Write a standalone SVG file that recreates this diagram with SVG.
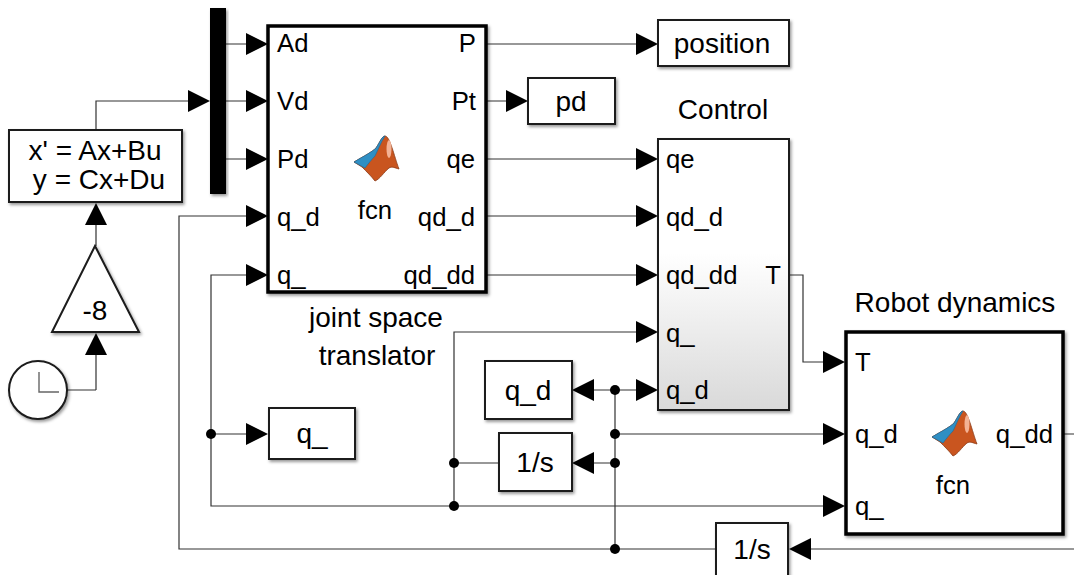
<svg xmlns="http://www.w3.org/2000/svg" width="1074" height="575" viewBox="0 0 1074 575">
<style>
text{font-family:"Liberation Sans",Arial,sans-serif;font-size:28px;fill:#000}
.p{font-size:25.7px}
.m{text-anchor:middle}
.e{text-anchor:end}
.b{fill:#fff;stroke:#1a1a1a;stroke-width:2;filter:url(#sh)}
.h{fill:#fff;stroke:#000;stroke-width:3.5;filter:url(#sh)}
.l{fill:none;stroke:#333;stroke-width:1.2}
.d{fill:#000}
.a{fill:#000}
</style>
<defs>
<filter id="sh" x="-10%" y="-10%" width="125%" height="125%"><feDropShadow dx="1.5" dy="2" stdDeviation="1.5" flood-color="#000" flood-opacity="0.4"/></filter>
<linearGradient id="g" x1="0" y1="0" x2="0" y2="1"><stop offset="0" stop-color="#fff"/><stop offset="0.42" stop-color="#fff"/><stop offset="1" stop-color="#d9d9d9"/></linearGradient>
<path id="ar" d="M-22,-11 L0,0 L-22,11 Z"/>
<g id="logo">
<path d="M0,26 C10,20 18,16 22,12 C26,6 28,0 31,0 C36,0 40,20 45,33 C41,32 38,30 35,32 C30,36 26,43 21,45 C18,41 12,35 8,31 Z" fill="#c9551f" stroke="#8a3a17" stroke-width="0.8"/>
<path d="M0,26 C10,20 18,16 22,12 C26,6 28,0 31,0 C27,6 24,14 21,20 C18,23 14,28 11,32 Z" fill="#2f8fc4" stroke="#1f6a99" stroke-width="0.6"/>
<ellipse cx="35" cy="13" rx="2.5" ry="9" fill="#f3b295"/>
</g>
</defs>
<g id="connectors">
<path class="l" d="M96,130V101H190"/>
<path class="l" d="M226,44H248M226,101H248M226,159H248"/>
<path class="l" d="M96,390H66M96,390V353M96,246V223"/>
<path class="l" d="M248,216H179V549H716"/>
<path class="l" d="M248,275H211V506H825"/>
<path class="l" d="M211,434H248"/>
<path class="l" d="M486,44H638M486,101H508M486,159H638M486,216H638M486,275H638"/>
<path class="l" d="M790,275H803V362H825"/>
<path class="l" d="M638,332H454V506"/>
<path class="l" d="M454,463H499"/>
<path class="l" d="M593,390H638M615,390V549M615,434H825M593,463H615"/>
<path class="l" d="M1063,434H1074M1074,549H809"/>
<use href="#ar" class="a" x="210" y="101"/>
<use href="#ar" class="a" x="268" y="44"/>
<use href="#ar" class="a" x="268" y="101"/>
<use href="#ar" class="a" x="268" y="159"/>
<use href="#ar" class="a" x="268" y="216"/>
<use href="#ar" class="a" x="268" y="275"/>
<use href="#ar" class="a" x="268" y="434"/>
<use href="#ar" class="a" x="658" y="44"/>
<use href="#ar" class="a" x="528" y="101"/>
<use href="#ar" class="a" x="658" y="159"/>
<use href="#ar" class="a" x="658" y="216"/>
<use href="#ar" class="a" x="658" y="275"/>
<use href="#ar" class="a" x="658" y="332"/>
<use href="#ar" class="a" x="658" y="390"/>
<use href="#ar" class="a" x="845" y="362"/>
<use href="#ar" class="a" x="845" y="434"/>
<use href="#ar" class="a" x="845" y="506"/>
<use href="#ar" class="a" transform="translate(572,390) rotate(180)"/>
<use href="#ar" class="a" transform="translate(572,463) rotate(180)"/>
<use href="#ar" class="a" transform="translate(789,549) rotate(180)"/>
<use href="#ar" class="a" transform="translate(96,203) rotate(-90)"/>
<use href="#ar" class="a" transform="translate(96,333) rotate(-90)"/>
<circle class="d" cx="211" cy="434" r="5"/>
<circle class="d" cx="454" cy="463" r="5"/>
<circle class="d" cx="454" cy="506" r="5"/>
<circle class="d" cx="615" cy="390" r="5"/>
<circle class="d" cx="615" cy="434" r="5"/>
<circle class="d" cx="615" cy="463" r="5"/>
<circle class="d" cx="615" cy="549" r="5"/>
</g>
<g id="statespace"><rect class="b" x="9" y="130" width="173" height="72"/>
<text class="m" x="95" y="160">x' = Ax+Bu</text><text class="m" x="99" y="189">y = Cx+Du</text></g>
<g id="gain"><path class="b" d="M95,246L139,332H52Z"/><text class="m" x="95" y="320">-8</text></g>
<g id="clock"><circle class="b" cx="38" cy="390" r="29"/><path d="M39,372V392H59" fill="none" stroke="#666" stroke-width="1.4"/></g>
<g id="mux"><rect x="210" y="8" width="16" height="186" fill="#000" filter="url(#sh)"/></g>
<g id="translator"><rect class="h" x="268" y="26" width="218" height="266"/>
<use href="#logo" x="354" y="136"/>
<text class="p" x="277" y="52">Ad</text><text class="p" x="277" y="110">Vd</text><text class="p" x="277" y="168">Pd</text><text class="p" x="277" y="226">q_d</text><text class="p" x="277" y="284">q_</text>
<text class="p e" x="476" y="52">P</text><text class="p e" x="476" y="110">Pt</text><text class="p e" x="475" y="168">qe</text><text class="p e" x="475" y="226">qd_d</text><text class="p e" x="475" y="284">qd_dd</text>
<text class="p m" x="375" y="219">fcn</text>
<text class="m" x="376" y="327">joint space</text><text class="m" x="377" y="365">translator</text></g>
<g id="position"><rect class="b" x="658" y="20" width="131" height="46"/><text class="m" x="722" y="53">position</text></g>
<g id="pd"><rect class="b" x="528" y="78" width="87" height="46"/><text class="m" x="571" y="111">pd</text></g>
<g id="control"><text class="m" x="723" y="119">Control</text><rect class="b" x="658" y="139" width="131" height="271" style="fill:url(#g)"/>
<text class="p" x="666" y="168">qe</text><text class="p" x="666" y="226">qd_d</text><text class="p" x="666" y="284">qd_dd</text><text class="p" x="666" y="342">q_</text><text class="p" x="666" y="399">q_d</text><text class="p e" x="781" y="284">T</text></g>
<g id="q-goto"><rect class="b" x="269" y="408" width="86" height="51"/><text class="m" x="312" y="443">q_</text></g>
<g id="qd-goto"><rect class="b" x="485" y="361" width="87" height="58"/><text class="m" x="528" y="400">q_d</text></g>
<g id="integrator1"><rect class="b" x="499" y="433" width="73" height="58"/><text class="m" x="535" y="472">1/s</text></g>
<g id="integrator2"><rect class="b" x="716" y="523" width="72" height="58"/><text class="m" x="752" y="559">1/s</text></g>
<g id="robot"><text class="m" x="955" y="312">Robot dynamics</text><rect class="h" x="846" y="332" width="217" height="202"/>
<use href="#logo" x="932" y="411"/>
<text class="p" x="855" y="371">T</text><text class="p" x="855" y="443">q_d</text><text class="p" x="855" y="515">q_</text>
<text class="p e" x="1053" y="443">q_dd</text><text class="p m" x="953" y="494">fcn</text></g>
</svg>
